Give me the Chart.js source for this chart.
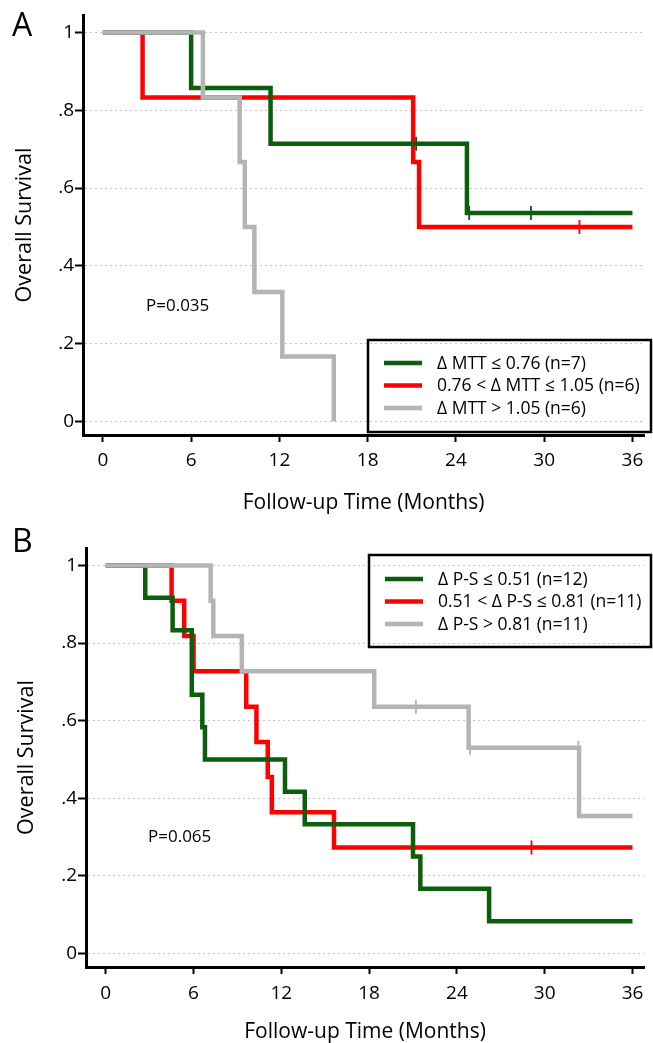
<!DOCTYPE html>
<html>
<head>
<meta charset="utf-8">
<script src="https://cdn.jsdelivr.net/npm/chart.js@4.4.0/dist/chart.umd.min.js"></script>
<style>
    body { margin: 0; background: #fff; overflow: hidden; }
    .panel { position: absolute; left: 0; }
    #panelA { top: 0; }
    #panelB { top: 520px; }
</style>
</head>
<body>
<div class="panel" id="panelA"><canvas id="chartA" width="653" height="520"></canvas></div>
<div class="panel" id="panelB"><canvas id="chartB" width="653" height="530"></canvas></div>
<script>
// axes
const xTicks = [0, 6, 12, 18, 24, 30, 36];
const yTicks = [0, 0.2, 0.4, 0.6, 0.8, 1];
const yTickLabels = ['0', '.2', '.4', '.6', '.8', '1'];
const xTitle = 'Follow-up Time (Months)';
const yTitle = 'Overall Survival';

// panel A (Δ MTT)
const aLabels = ['\u0394 MTT \u2264 0.76 (n=7)', '0.76 < \u0394 MTT \u2264 1.05 (n=6)', '\u0394 MTT > 1.05 (n=6)'];
const aGreenTime = [0, 6.0, 11.4, 24.75, 36];
const aGreenSurv = [1, 0.857, 0.714, 0.536, 0.536];
const aGreenCensorTime = [21.3, 24.9, 29.1];
const aGreenCensorSurv = [0.714, 0.536, 0.536];
const aRedTime = [0, 2.7, 21.1, 21.5, 36];
const aRedSurv = [1, 0.833, 0.667, 0.5, 0.5];
const aRedCensorTime = [32.4];
const aRedCensorSurv = [0.5];
const aGrayTime = [0, 6.8, 9.3, 9.65, 10.3, 12.2, 15.7];
const aGraySurv = [1, 0.833, 0.667, 0.5, 0.333, 0.167, 0];
const aPValue = 'P=0.035';

// panel B (Δ P-S)
const bLabels = ['\u0394 P-S \u2264 0.51 (n=12)', '0.51 < \u0394 P-S \u2264 0.81 (n=11)', '\u0394 P-S > 0.81 (n=11)'];
const bGreenTime = [0, 2.7, 4.57, 5.88, 6.6, 6.78, 12.25, 13.6, 21.0, 21.5, 26.2, 36];
const bGreenSurv = [1, 0.917, 0.833, 0.667, 0.583, 0.5, 0.417, 0.333, 0.25, 0.167, 0.083, 0.083];
const bRedTime = [0, 4.5, 5.36, 6.0, 9.6, 10.3, 11.07, 11.35, 15.6, 36];
const bRedSurv = [1, 0.909, 0.818, 0.727, 0.636, 0.545, 0.455, 0.364, 0.273, 0.273];
const bRedCensorTime = [29.1];
const bRedCensorSurv = [0.273];
const bGrayTime = [0, 7.17, 7.35, 9.3, 18.35, 24.8, 32.35, 36];
const bGraySurv = [1, 0.909, 0.818, 0.727, 0.636, 0.530, 0.354, 0.354];
const bGrayCensorTime = [21.2, 24.9, 32.3];
const bGrayCensorSurv = [0.636, 0.530, 0.530];
const bPValue = 'P=0.065';

const GREEN = '#0b5e0b';
const RED = '#ff0000';
const GRAY = '#b4b4b4';

Chart.defaults.font.family = '"Open Sans", "DejaVu Sans", sans-serif';
Chart.defaults.color = '#000';

function toPoints(xs, ys) {
    return xs.map((x, i) => ({ x: x, y: ys[i] }));
}

function curve(label, xs, ys, color, order) {
    return {
        label: label,
        data: toPoints(xs, ys),
        borderColor: color,
        borderWidth: 4.5,
        stepped: 'before',
        pointRadius: 0,
        fill: false,
        order: order
    };
}

function censor(xs, ys, color, order) {
    return {
        censor: true,
        data: toPoints(xs, ys),
        showLine: false,
        pointStyle: 'line',
        rotation: 90,
        pointRadius: 7,
        pointBorderWidth: 1.8,
        borderColor: color,
        pointBorderColor: color,
        order: order
    };
}

// legend box, p-value and panel letter
const kmExtras = {
    id: 'kmExtras',
    afterDraw(chart, args, opts) {
        const ctx = chart.ctx;
        ctx.save();
        ctx.fillStyle = '#000';
        ctx.textBaseline = 'middle';
        ctx.font = '32px "Open Sans"';
        ctx.fillText(opts.letter, opts.letterX, opts.letterY);
        ctx.font = '17px "Open Sans"';
        ctx.fillText(opts.pText, opts.pX, opts.pY);

        ctx.lineWidth = 2.5;
        ctx.strokeStyle = '#000';
        ctx.strokeRect(opts.box.x, opts.box.y, opts.box.w, opts.box.h);
        ctx.font = '17.5px "Open Sans"';
        const items = chart.data.datasets.filter(d => !d.censor);
        items.forEach((d, i) => {
            const y = opts.rowY + i * opts.rowGap;
            ctx.strokeStyle = d.borderColor;
            ctx.lineWidth = 4.5;
            ctx.beginPath();
            ctx.moveTo(opts.box.x + 16, y);
            ctx.lineTo(opts.box.x + 54, y);
            ctx.stroke();
            ctx.fillStyle = '#000';
            ctx.fillText(d.label, opts.box.x + 69, y + 1);
        });
        ctx.restore();
    }
};

function makeConfig(datasets, lay) {
    return {
        type: 'line',
        data: { datasets: datasets },
        plugins: [kmExtras],
        options: {
            responsive: false,
            animation: false,
            layout: { padding: { top: lay.top, right: 5, left: 0, bottom: 0 } },
            plugins: {
                legend: { display: false },
                tooltip: { enabled: false },
                kmExtras: lay.extras
            },
            scales: {
                x: {
                    type: 'linear',
                    min: -1.35,
                    max: 36.8,
                    afterBuildTicks: s => { s.ticks = xTicks.map(v => ({ value: v })); },
                    afterFit: s => { s.height = lay.xHeight; },
                    ticks: { font: { size: 19 }, color: '#000', padding: lay.xTickPad, maxRotation: 0, autoSkip: false },
                    grid: { drawOnChartArea: false, tickLength: 7, tickColor: '#000', tickWidth: 2 },
                    border: { color: '#000', width: 3 },
                    title: { display: true, text: xTitle, font: { size: 21 }, color: '#000', padding: { bottom: lay.xTitlePad } }
                },
                y: {
                    type: 'linear',
                    min: -0.035,
                    max: 1.045,
                    afterBuildTicks: s => { s.ticks = yTicks.map(v => ({ value: v })); },
                    afterFit: s => { s.width = lay.yWidth; },
                    ticks: {
                        font: { size: 19 },
                        color: '#000',
                        padding: 1,
                        callback: v => yTickLabels[yTicks.indexOf(v)]
                    },
                    grid: { color: '#c4c4c4', lineWidth: 1, tickLength: 8, tickColor: '#000', tickWidth: 2 },
                    border: { color: '#000', width: 3, dash: [2, 3] },
                    title: { display: true, text: yTitle, font: { size: 21.5 }, color: '#000', padding: { top: lay.yTitlePad } }
                }
            }
        }
    };
}

document.addEventListener('DOMContentLoaded', function () {
    const dataA = [
        curve(aLabels[0], aGreenTime, aGreenSurv, GREEN, 1),
        curve(aLabels[1], aRedTime, aRedSurv, RED, 2),
        curve(aLabels[2], aGrayTime, aGraySurv, GRAY, 0),
        censor(aGreenCensorTime, aGreenCensorSurv, GREEN, 1),
        censor(aRedCensorTime, aRedCensorSurv, RED, 2)
    ];
    const dataB = [
        curve(bLabels[0], bGreenTime, bGreenSurv, GREEN, 1),
        curve(bLabels[1], bRedTime, bRedSurv, RED, 2),
        curve(bLabels[2], bGrayTime, bGraySurv, GRAY, 0),
        censor(bRedCensorTime, bRedCensorSurv, RED, 2),
        censor(bGrayCensorTime, bGrayCensorSurv, GRAY, 0)
    ];

    new Chart(document.getElementById('chartA'), makeConfig(dataA, {
        top: 15, xHeight: 85, yWidth: 83, xTickPad: 7, xTitlePad: 4.5, yTitlePad: 12,
        extras: {
            letter: 'A', letterX: 12, letterY: 27,
            pText: aPValue, pX: 146, pY: 306,
            box: { x: 368, y: 340, w: 283, h: 92 },
            rowY: 363, rowGap: 22.5
        }
    }));

    new Chart(document.getElementById('chartB'), makeConfig(dataB, {
        top: 28, xHeight: 83, yWidth: 86, xTickPad: 8, xTitlePad: 5, yTitlePad: 14,
        extras: {
            letter: 'B', letterX: 12, letterY: 23,
            pText: bPValue, pX: 148, pY: 317,
            box: { x: 369, y: 35, w: 282, h: 92 },
            rowY: 59, rowGap: 22.5
        }
    }));
});
</script>
</body>
</html>
